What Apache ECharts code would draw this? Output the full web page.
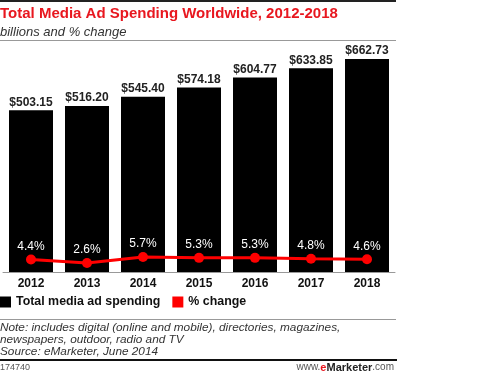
<!DOCTYPE html>
<html>
<head>
<meta charset="utf-8">
<script src="https://cdn.jsdelivr.net/npm/echarts@6/dist/echarts.min.js"></script>
<style>
  html, body { margin:0; padding:0; background:#fff; }
  #chart { width:500px; height:375px; }
</style>
</head>
<body>
<div id="chart"></div>
<script>
  // data
  const years = ['2012', '2013', '2014', '2015', '2016', '2017', '2018']
  const spending = [503.15, 516.20, 545.40, 574.18, 604.77, 633.85, 662.73]
  const pctChange = [4.4, 2.6, 5.7, 5.3, 5.3, 4.8, 4.6]

  const font = 'Liberation Sans, Arial, sans-serif'
  const chart = echarts.init(document.getElementById('chart'))

  chart.setOption({
    animation: false,
    textStyle: { fontFamily: font },
    title: {
      text: 'Total Media Ad Spending Worldwide, 2012-2018',
      subtext: 'billions and % change',
      left: 0,
      top: 6,
      padding: 0,
      itemGap: 5,
      textStyle: { color: '#e8171f', fontSize: 15, fontWeight: 'bold', fontFamily: font },
      subtextStyle: { color: '#333', fontSize: 13, fontStyle: 'italic', fontFamily: font }
    },
    legend: {
      left: 0,
      top: 296,
      padding: 0,
      icon: 'rect',
      itemWidth: 11,
      itemHeight: 11,
      itemGap: 12,
      textStyle: { fontSize: 12.4, fontWeight: 'bold', color: '#111', fontFamily: font },
      data: ['Total media ad spending', '% change']
    },
    grid: { left: 3, right: 105, top: 47, bottom: 103 },
    xAxis: {
      type: 'category',
      data: years,
      axisLine: { lineStyle: { color: '#999', width: 1 } },
      axisTick: { show: false },
      axisLabel: { color: '#111', fontSize: 12, fontWeight: 'bold', margin: 6 }
    },
    yAxis: [
      { type: 'value', min: 0, max: 700, show: false, splitLine: { show: false } },
      { type: 'value', min: -2, max: 114, show: false, splitLine: { show: false } }
    ],
    series: [
      {
        name: 'Total media ad spending',
        type: 'bar',
        data: spending,
        barWidth: 44,
        itemStyle: { color: '#000' },
        label: {
          show: true,
          position: 'top',
          distance: 2,
          color: '#222',
          fontSize: 12,
          fontWeight: 'bold',
          formatter: p => '$' + p.value.toFixed(2)
        }
      },
      {
        name: '% change',
        type: 'line',
        yAxisIndex: 1,
        data: pctChange,
        symbol: 'circle',
        symbolSize: 10,
        lineStyle: { color: '#ff0000', width: 3 },
        itemStyle: { color: '#ff0000' },
        label: {
          show: true,
          position: 'top',
          distance: 2,
          color: '#fff',
          fontSize: 12,
          formatter: p => p.value.toFixed(1) + '%'
        }
      }
    ],
    graphic: [
      { type: 'rect', shape: { x: 0, y: 0, width: 396, height: 2 }, style: { fill: '#222' } },
      { type: 'rect', shape: { x: 0, y: 40, width: 396, height: 1 }, style: { fill: '#999' } },
      { type: 'rect', shape: { x: 0, y: 319, width: 396, height: 1 }, style: { fill: '#999' } },
      {
        type: 'text', left: 0, top: 322,
        style: {
          text: 'Note: includes digital (online and mobile), directories, magazines,\nnewspapers, outdoor, radio and TV\nSource: eMarketer, June 2014',
          fill: '#333', font: 'italic 11.8px ' + font, lineHeight: 12
        }
      },
      { type: 'rect', shape: { x: 0, y: 359, width: 397, height: 2 }, style: { fill: '#111' } },
      {
        type: 'text', left: 0, top: 363,
        style: { text: '174740', fill: '#555', font: '9px ' + font }
      },
      {
        type: 'text', right: 106, top: 362,
        style: {
          text: '{a|www.}{b|e}{c|Marketer}{a|.com}',
          rich: {
            a: { fill: '#555', font: '10px ' + font },
            b: { fill: '#e8171f', font: 'bold 11px ' + font },
            c: { fill: '#222', font: 'bold 11px ' + font }
          }
        }
      }
    ]
  })
</script>
</body>
</html>
